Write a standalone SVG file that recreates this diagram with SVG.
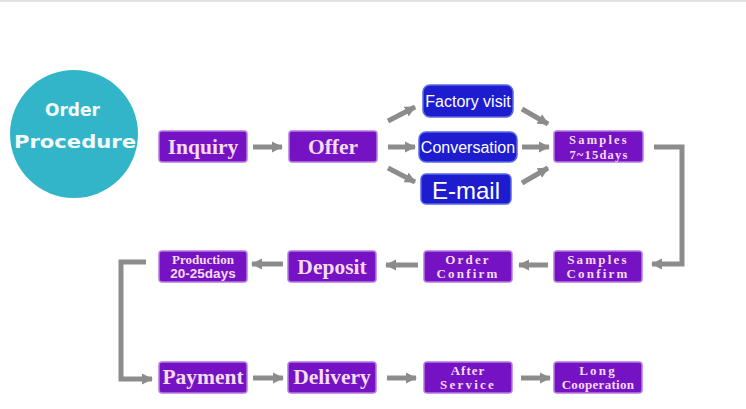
<svg xmlns="http://www.w3.org/2000/svg" width="746" height="409" viewBox="0 0 746 409">
<style>
.p{fill:#7412c4;stroke:#b77be0;stroke-width:1.5}
.b{fill:#1d1ccf;stroke:#5a6ae6;stroke-width:1.5}
.big{font-family:"Liberation Serif",serif;font-weight:bold;font-size:21.5px;fill:#f6dcf2;text-anchor:middle}
.sm{font-family:"Liberation Serif",serif;font-weight:bold;font-size:13px;fill:#f6dcf2;text-anchor:middle;letter-spacing:2.2px}
.ss{font-family:"Liberation Sans",sans-serif;font-weight:bold;font-size:13.5px;fill:#f6dcf2;text-anchor:middle}
.bl{font-family:"Liberation Sans",sans-serif;font-size:16px;fill:#ffffff;text-anchor:middle}
.ci{font-family:"DejaVu Sans",sans-serif;font-weight:bold;font-size:18px;fill:#f4fbfb;text-anchor:middle}
.c{fill:none;stroke:#8c8c8c;stroke-width:5}
</style>
<defs>
<marker id="ah" markerUnits="userSpaceOnUse" markerWidth="12" markerHeight="12" refX="10" refY="6" orient="auto">
<path d="M0,0.5 L11,6 L0,11.5 Z" fill="#8c8c8c"/>
</marker>
</defs>
<rect width="746" height="409" fill="#ffffff"/>
<line x1="0" y1="1" x2="746" y2="1" stroke="#e2e2e2" stroke-width="2"/>

<g id="order-procedure">
<circle cx="74" cy="134" r="64" fill="#33b5c9"/>
<text class="ci" x="72.5" y="116" textLength="55" lengthAdjust="spacingAndGlyphs">Order</text>
<text class="ci" x="75" y="148" textLength="122" lengthAdjust="spacingAndGlyphs">Procedure</text>
</g>

<g id="connectors">
<line class="c" x1="253" y1="147" x2="282" y2="147" marker-end="url(#ah)"/>
<line class="c" x1="388" y1="121" x2="415" y2="107" marker-end="url(#ah)"/>
<line class="c" x1="388" y1="147" x2="415" y2="147" marker-end="url(#ah)"/>
<line class="c" x1="388" y1="168" x2="415" y2="182" marker-end="url(#ah)"/>
<line class="c" x1="522" y1="109" x2="548" y2="124" marker-end="url(#ah)"/>
<line class="c" x1="522" y1="147" x2="549" y2="147" marker-end="url(#ah)"/>
<line class="c" x1="522" y1="183" x2="548" y2="168" marker-end="url(#ah)"/>
<polyline class="c" points="654,147 682,147 682,264 652,264" marker-end="url(#ah)"/>
<line class="c" x1="548" y1="265" x2="519" y2="265" marker-end="url(#ah)"/>
<line class="c" x1="418" y1="265" x2="386" y2="265" marker-end="url(#ah)"/>
<line class="c" x1="283" y1="264" x2="252" y2="264" marker-end="url(#ah)"/>
<polyline class="c" points="146,262 121,262 121,379 152,379" marker-end="url(#ah)"/>
<line class="c" x1="253" y1="378" x2="283" y2="378" marker-end="url(#ah)"/>
<line class="c" x1="387" y1="378" x2="416" y2="378" marker-end="url(#ah)"/>
<line class="c" x1="521" y1="378" x2="550" y2="378" marker-end="url(#ah)"/>
</g>

<g id="inquiry"><rect class="p" x="159" y="131" width="88" height="31" rx="3"/><text class="big" x="203" y="154">Inquiry</text></g>
<g id="offer"><rect class="p" x="289" y="131" width="88" height="31" rx="3"/><text class="big" x="333" y="154">Offer</text></g>
<g id="factory-visit"><rect class="b" x="423" y="85" width="90" height="32" rx="7"/><text class="bl" x="468" y="107">Factory visit</text></g>
<g id="conversation"><rect class="b" x="419" y="132" width="98" height="30" rx="7"/><text class="bl" x="468" y="153">Conversation</text></g>
<g id="e-mail"><rect class="b" x="421" y="174" width="90" height="30" rx="5"/><text class="bl" x="466" y="199" style="font-size:24px">E-mail</text></g>
<g id="samples-days"><rect class="p" x="554" y="131" width="89" height="31" rx="3"/><text class="sm" x="599" y="143.5" style="font-size:12.5px">Samples</text><text class="sm" x="599" y="158.5" style="letter-spacing:1.2px;font-size:12.5px">7~15days</text></g>

<g id="samples-confirm"><rect class="p" x="554" y="251" width="88" height="31" rx="3"/><text class="sm" x="598" y="264">Samples</text><text class="sm" x="598" y="278">Confirm</text></g>
<g id="order-confirm"><rect class="p" x="424" y="251" width="88" height="31" rx="3"/><text class="sm" x="468" y="264">Order</text><text class="sm" x="468" y="278">Confirm</text></g>
<g id="deposit"><rect class="p" x="288" y="251" width="88" height="31" rx="3"/><text class="big" x="332" y="274">Deposit</text></g>
<g id="production"><rect class="p" x="159" y="251" width="88" height="31" rx="3"/><text class="sm" x="203" y="264" style="letter-spacing:0">Production</text><text class="ss" x="203" y="278">20-25days</text></g>

<g id="payment"><rect class="p" x="159" y="362" width="88" height="31" rx="3"/><text class="big" x="203" y="384">Payment</text></g>
<g id="delivery"><rect class="p" x="288" y="362" width="88" height="31" rx="3"/><text class="big" x="332" y="384">Delivery</text></g>
<g id="after-service"><rect class="p" x="424" y="362" width="88" height="31" rx="3"/><text class="sm" x="468" y="375" style="letter-spacing:1px">After</text><text class="sm" x="468" y="389">Service</text></g>
<g id="long-cooperation"><rect class="p" x="554" y="362" width="88" height="31" rx="3"/><text class="sm" x="598" y="375">Long</text><text class="sm" x="598" y="389" style="letter-spacing:0.3px">Cooperation</text></g>
</svg>
